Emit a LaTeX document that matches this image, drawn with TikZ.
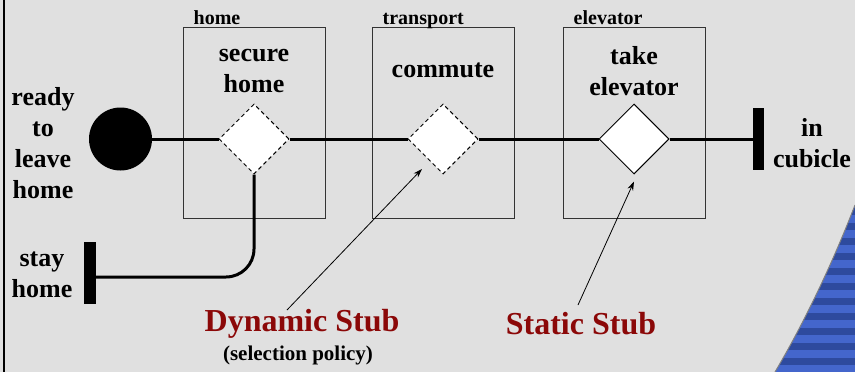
\documentclass[tikz,border=0pt]{standalone}
\usepackage{fontspec}
\setmainfont{Liberation Serif}
\usetikzlibrary{shapes.geometric,arrows.meta}
\definecolor{bggray}{RGB}{224,224,224}
\definecolor{stubred}{RGB}{139,8,8}
\definecolor{bluelight}{RGB}{68,102,204}
\definecolor{bluedark}{RGB}{46,74,158}

\tikzset{
    big/.style={font=\bfseries\fontsize{26}{31}\selectfont, align=center},
    tag/.style={font=\bfseries\fontsize{20}{24}\selectfont, inner sep=0pt},
    title/.style={font=\bfseries\fontsize{32}{38}\selectfont, text=stubred},
    stub/.style={diamond, draw=black, fill=white, line width=1pt, minimum width=70pt, minimum height=70pt, inner sep=0pt},
    dynstub/.style={stub, dash pattern=on 4pt off 3pt},
    comp/.style={draw=black!80, line width=1pt, minimum width=142pt, minimum height=191pt, inner sep=0pt},
    route/.style={line width=3pt},
    bar/.style={fill=black, minimum width=11pt, minimum height=62pt, inner sep=0pt},
    pointer/.style={line width=0.8pt, -{Stealth[length=9pt,width=6pt]}},
}

\begin{document}
\begin{tikzpicture}[x=1pt, y=-1pt]
    \fill[bggray] (0,0) rectangle (855,372);
    \useasboundingbox (0,0) rectangle (855,372);
    \draw[line width=2.5pt] (4,0) -- (4,372);

    % blue corner
    \begin{scope}
        \clip (855,205) .. controls (830,270) and (800,330) .. (775,372) -- (855,372) -- cycle;
        \fill[bluelight] (770,200) rectangle (855,372);
        \foreach \y in {208,223,...,370}{ \fill[bluedark] (770,\y) rectangle (855,\y+7); }
    \end{scope}
    \draw[gray, line width=1pt] (855,205) .. controls (830,270) and (800,330) .. (775,372);

    % components
    \foreach \x/\n in {254/home, 443/transport, 634/elevator}{%
        \node[comp] (\n box) at (\x,122.5) {};
        \node[tag, anchor=base west] (\n tag) at ([xshift=11pt,yshift=2pt]\n box.north west) {\n};
    }

    % start, stubs, ends
    \node[circle, fill=black, minimum size=63pt, inner sep=0pt] (start) at (120.5,139) {};
    \node[dynstub] (d1) at (254,139) {};
    \node[dynstub] (d2) at (443,139) {};
    \node[stub] (d3) at (634,139) {};
    \node[bar] (done) at (758.5,139) {};
    \node[bar, minimum width=12pt] (stay) at (90,273) {};

    \foreach \a/\b in {start/d1, d1/d2, d2/d3, d3/done}{ \draw[route] (\a.east) -- (\b.west); }
    \draw[route, rounded corners=28pt] (d1.south) |- ([yshift=-4pt]stay.east);

    % labels
    \node[big] (ready) at (43,143) {ready\\to\\leave\\home};
    \node[big] (stayhome) at (42,275) {stay\\home};
    \node[big] (secure) at (254,71) {secure\\home};
    \node[big] (commute) at (443,70) {commute};
    \node[big] (take) at (634,71) {take\\elevator};
    \node[big] (cubicle) at (812,143) {in\\cubicle};

    \node[title] (dyn) at (302,324) {Dynamic Stub};
    \node[font=\bfseries\fontsize{21}{25}\selectfont] (policy) at (298,355) {(selection policy)};
    \node[title] (static) at (581,324) {Static Stub};

    \coordinate (dyntail) at (287,310);
    \coordinate (stattail) at (578,305);
    \draw[pointer] (dyntail) -- ([shift={(-21pt,-30pt)}]d2.center);
    \draw[pointer] (stattail) -- ([yshift=-7pt]d3.south);
\end{tikzpicture}
\end{document}
